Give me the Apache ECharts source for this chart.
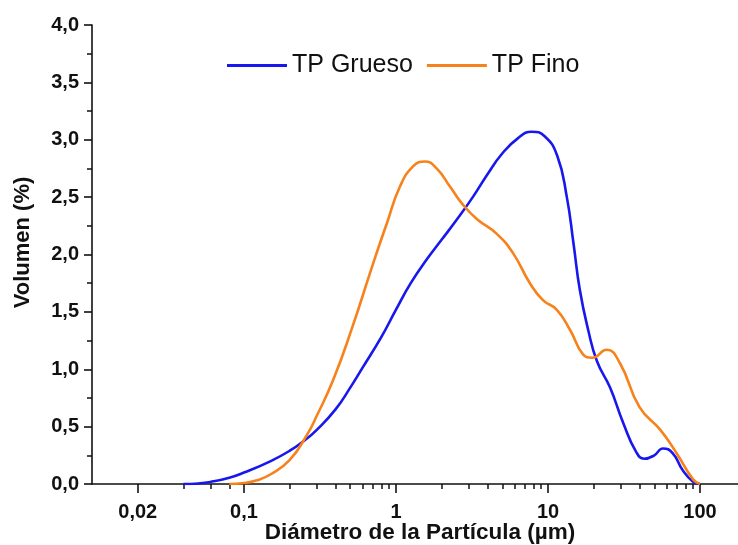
<!DOCTYPE html>
<html>
<head>
<meta charset="utf-8">
<script src="https://cdn.jsdelivr.net/npm/echarts@6/dist/echarts.min.js"></script>
<style>
  html, body { margin: 0; padding: 0; background: #ffffff; }
  #chart { width: 738px; height: 545px; }
</style>
</head>
<body>
<div id="chart"></div>
<script>
// Particle size distribution (volume %) against particle diameter in µm
const diamGrueso = [0.04, 0.05, 0.06, 0.08, 0.1, 0.15, 0.2, 0.25, 0.3, 0.4, 0.5, 0.6, 0.8, 1.0, 1.25, 1.6, 2.0, 2.5, 3.2, 4.0, 5.0, 6.3, 7.8, 9.5, 11.5, 13.3, 14.7, 16.2, 18.4, 21, 25.6, 31.3, 38, 43, 50, 57, 66, 77, 90, 100];
const volGrueso  = [0, 0.005, 0.018, 0.055, 0.10, 0.20, 0.29, 0.38, 0.47, 0.65, 0.84, 1.01, 1.28, 1.52, 1.75, 1.96, 2.13, 2.30, 2.50, 2.70, 2.88, 3.01, 3.07, 3.03, 2.86, 2.50, 2.10, 1.69, 1.34, 1.07, 0.84, 0.53, 0.28, 0.22, 0.25, 0.31, 0.27, 0.12, 0.02, 0];

const diamFino = [0.08, 0.1, 0.12, 0.15, 0.2, 0.26, 0.3, 0.387, 0.52, 0.675, 0.785, 0.87, 1.06, 1.3, 1.55, 1.85, 2.27, 2.77, 3.4, 4.6, 5.9, 7.6, 9.3, 11.4, 14, 17, 19.5, 24.3, 29.8, 40, 55, 70, 90, 100];
const volFino  = [0, 0.008, 0.03, 0.085, 0.21, 0.43, 0.59, 0.91, 1.38, 1.84, 2.10, 2.27, 2.59, 2.77, 2.81, 2.75, 2.59, 2.43, 2.31, 2.18, 2.01, 1.75, 1.60, 1.52, 1.34, 1.13, 1.10, 1.17, 1.05, 0.67, 0.47, 0.27, 0.04, 0];

// Tick positions on the diameter axis (µm)
const xMajorTicks = [0.02, 0.1, 1, 10, 100];
const xMinorTicks = [0.04, 0.06, 0.08,
  0.2, 0.3, 0.4, 0.5, 0.6, 0.7, 0.8, 0.9,
  2, 3, 4, 5, 6, 7, 8, 9,
  20, 30, 40, 50, 60, 70, 80, 90];
const xRange = [0.01, 177.8];
const yRange = [0, 4];

const FONT = '"Liberation Sans", Arial, sans-serif';
const INK = '#111111';

const lg = v => Math.log10(v);
const toPairs = (xs, ys) => xs.map((d, i) => [lg(d), ys[i]]);
const comma = s => String(s).replace('.', ',');

const chart = echarts.init(document.getElementById('chart'), null, { renderer: 'canvas' });

const axisLine = { show: true, onZero: false, lineStyle: { color: INK, width: 1.6 } };

chart.setOption({
  animation: false,
  backgroundColor: '#ffffff',
  grid: { left: 92, right: 0, top: 25, bottom: 61, containLabel: false, outerBoundsMode: 'none' },
  legend: {
    left: 222, top: 48,
    icon: 'rect',
    itemWidth: 60, itemHeight: 3, itemGap: 14,
    textStyle: { fontFamily: FONT, fontSize: 25, color: INK },
    data: ['TP Grueso', 'TP Fino']
  },
  xAxis: [
    {
      type: 'value',
      min: lg(xRange[0]), max: lg(xRange[1]),
      position: 'bottom',
      name: 'Diámetro de la Partícula (µm)',
      nameLocation: 'middle',
      nameMoveOverlap: false,
      nameGap: 37,
      nameTextStyle: { fontFamily: FONT, fontSize: 22.5, fontWeight: 'bold', color: INK, padding: [0, 0, 0, 10] },
      axisLine: axisLine,
      splitLine: { show: false },
      axisTick: { show: true, inside: false, length: 9, lineStyle: { color: INK, width: 1.6 },
                  customValues: xMajorTicks.map(lg) },
      axisLabel: {
        show: true, margin: 28,
        customValues: xMajorTicks.map(lg),
        fontFamily: FONT, fontSize: 20, fontWeight: 'bold', color: INK,
        verticalAlign: 'middle',
        formatter: v => comma(Number(Math.pow(10, v).toPrecision(3)))
      }
    },
    {
      type: 'value',
      min: lg(xRange[0]), max: lg(xRange[1]),
      position: 'bottom',
      axisLine: { show: false },
      splitLine: { show: false },
      axisLabel: { show: false },
      axisTick: { show: true, inside: false, length: 5, lineStyle: { color: INK, width: 1.5 },
                  customValues: xMinorTicks.map(lg) }
    }
  ],
  yAxis: {
    type: 'value',
    min: yRange[0], max: yRange[1], interval: 0.5,
    name: 'Volumen (%)',
    nameLocation: 'middle',
    nameMoveOverlap: false,
    nameGap: 58,
    nameRotate: 90,
    nameTextStyle: { fontFamily: FONT, fontSize: 22, fontWeight: 'bold', color: INK, padding: [0, 0, 0, 24] },
    axisLine: axisLine,
    splitLine: { show: false },
    axisTick: { show: true, inside: false, length: 8, lineStyle: { color: INK, width: 1.6 } },
    minorTick: { show: true, splitNumber: 2, length: 5, lineStyle: { color: INK, width: 1.5 } },
    axisLabel: {
      margin: 13,
      fontFamily: FONT, fontSize: 20, fontWeight: 'bold', color: INK,
      formatter: v => comma(v.toFixed(1))
    }
  },
  series: [
    {
      name: 'TP Grueso', type: 'line', xAxisIndex: 0,
      data: toPairs(diamGrueso, volGrueso),
      smooth: 0.5, symbol: 'none',
      lineStyle: { color: '#1717ee', width: 2.6 },
      itemStyle: { color: '#1717ee' }
    },
    {
      name: 'TP Fino', type: 'line', xAxisIndex: 0,
      data: toPairs(diamFino, volFino),
      smooth: 0.5, symbol: 'none',
      lineStyle: { color: '#f7821c', width: 2.6 },
      itemStyle: { color: '#f7821c' }
    }
  ]
});
</script>
</body>
</html>
